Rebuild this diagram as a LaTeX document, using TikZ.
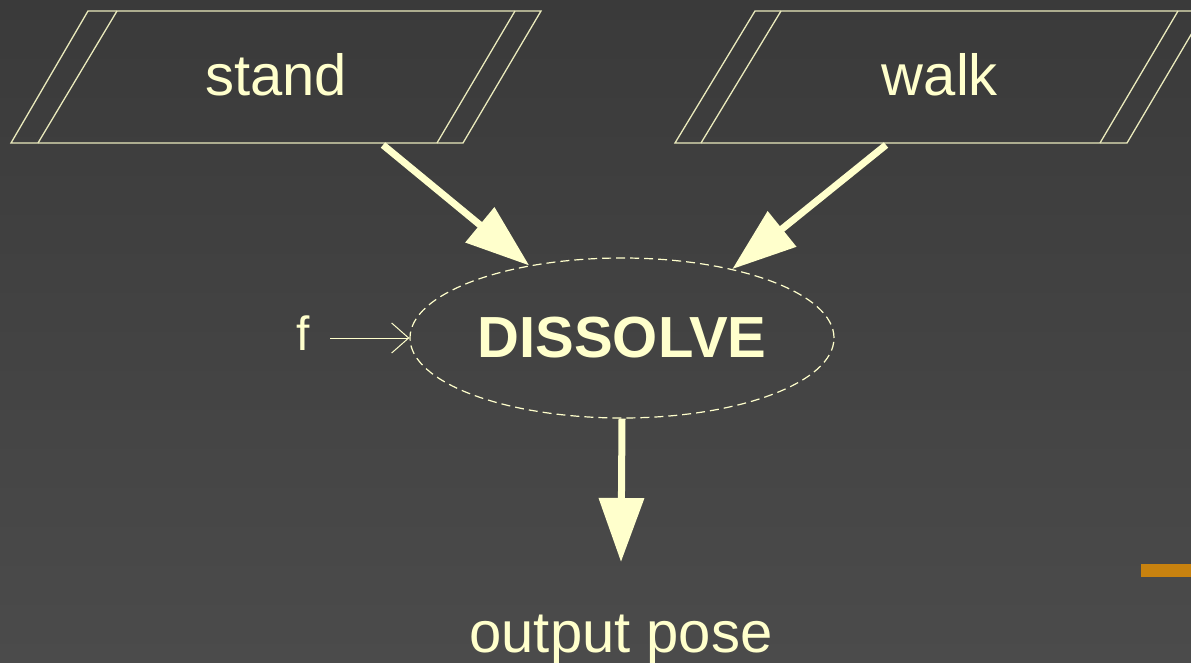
\documentclass[tikz,border=0pt]{standalone}
\usepackage{fontspec}
\setmainfont{Liberation Sans}
\usetikzlibrary{arrows.meta,shapes.geometric}
\definecolor{bgtop}{HTML}{3A3A3A}
\definecolor{bgbot}{HTML}{4B4B4B}
\definecolor{ink}{HTML}{FFFFCC}
\definecolor{frame}{HTML}{EAEABC}
\definecolor{bar}{HTML}{C8820F}
\begin{document}
\begin{tikzpicture}[x=1pt,y=-1pt,
  frameline/.style={draw=frame, line width=1.3pt, line join=miter},
  lbl/.style={text=ink, font=\fontsize{58}{60}\selectfont, inner sep=0pt, anchor=base},
  bigarrow/.style={draw=ink, line width=7pt, -{Triangle[length=64pt,width=44pt]}},
  thinarrow/.style={draw=ink, line width=1pt, -{Straight Barb[length=17pt,width=30pt,line width=1pt]}},
  dissolve/.style={ellipse, draw=ink, line width=1.2pt, dash pattern=on 9pt off 5pt,
    minimum width=424pt, minimum height=160pt, inner sep=0pt, text=ink,
    font=\fontsize{58}{60}\selectfont\bfseries},
]
\useasboundingbox (0,0) rectangle (1191,663);
\shade[top color=bgtop, bottom color=bgbot] (0,0) rectangle (1191,663);
% orange bar
\fill[bar] (1141,564) rectangle (1191,577);
% stand
\draw[frameline] (88,11) -- (541,11) -- (463,143) -- (11,143) -- cycle;
\draw[frameline] (117,11) -- (38,143);
\draw[frameline] (515,11) -- (437,143);
\node[lbl] (stand) at (276,96) {stand};
% walk
\draw[frameline] (755,11) -- (1205,11) -- (1127,143) -- (675,143) -- cycle;
\draw[frameline] (781,11) -- (701,143);
\draw[frameline] (1178,11) -- (1100,143);
\node[lbl] (walk) at (940,96) {walk};
% dissolve
\node[dissolve] (diss) at (622,338) {DISSOLVE};
% f
\node[lbl, font=\fontsize{48}{50}\selectfont] (f) at (303,350) {f};
\coordinate (fstart) at (330,338);
% output
\node[lbl] (outp) at (621,652) {output pose};
\coordinate (sstart) at (383,145);
\coordinate (wstart) at (886,145);
\coordinate (dend) at (621,562);
% connectors
\draw[bigarrow] (sstart) -- (diss.142.3);
\draw[bigarrow] (wstart) -- (diss.32.6);
\draw[bigarrow] (diss.south) -- (dend);
\draw[thinarrow] (fstart) -- (diss.west);
\end{tikzpicture}
\end{document}
